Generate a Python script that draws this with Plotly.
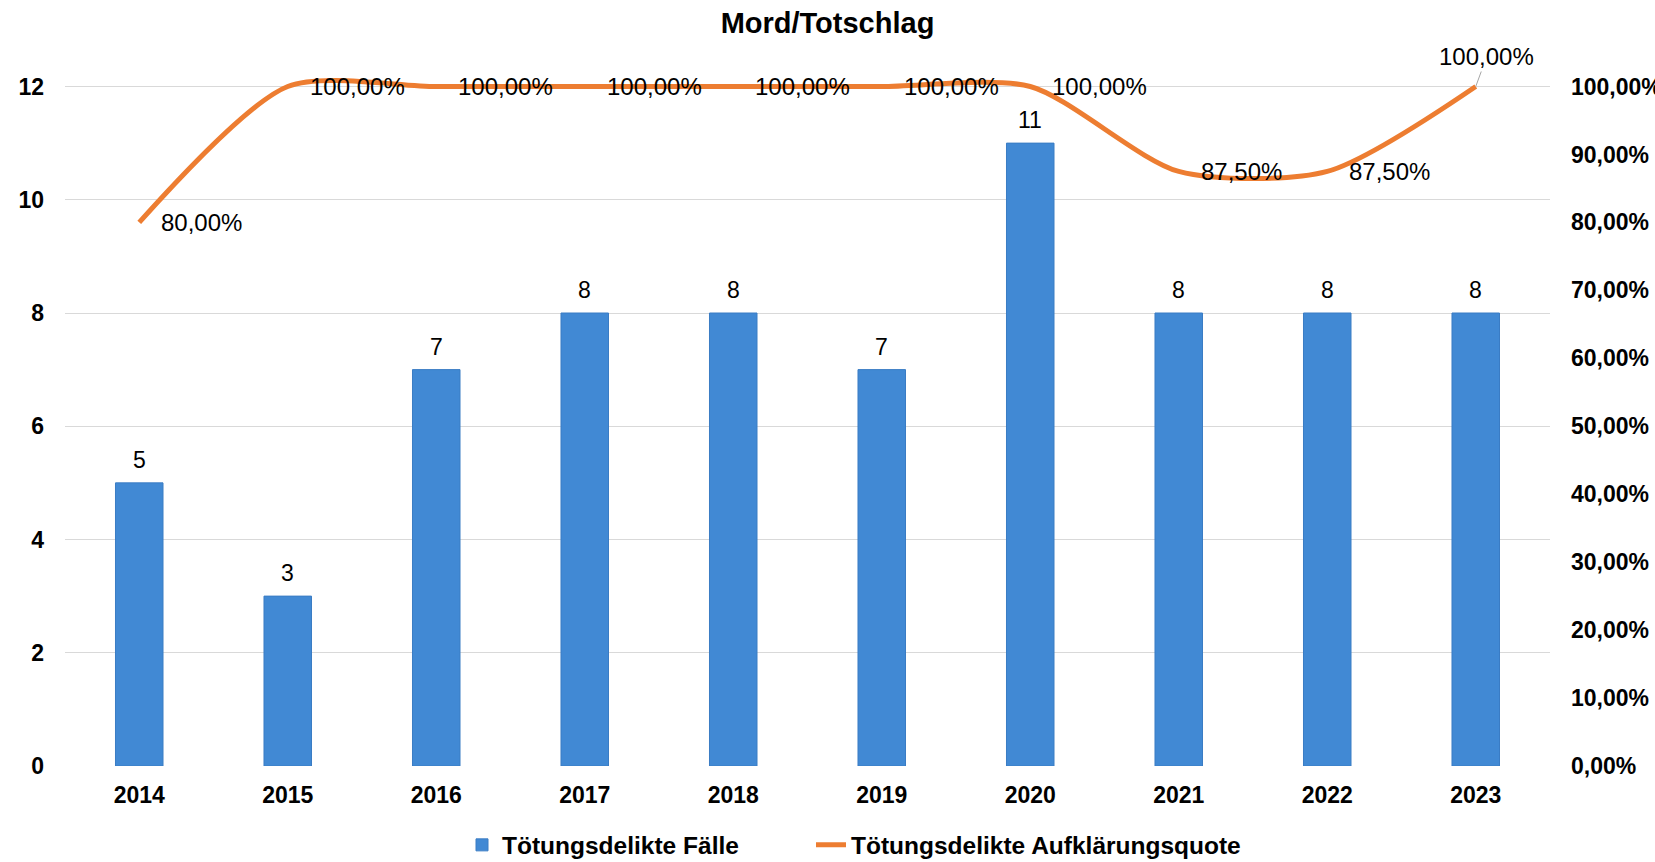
import plotly.graph_objects as go

years = ["2014", "2015", "2016", "2017", "2018", "2019", "2020", "2021", "2022", "2023"]
cases = [5, 3, 7, 8, 8, 7, 11, 8, 8, 8]
clearance = [0.80, 1.00, 1.00, 1.00, 1.00, 1.00, 1.00, 0.875, 0.875, 1.00]

title_text = "Mord/Totschlag"
bar_name = "Tötungsdelikte Fälle"
line_name = "Tötungsdelikte Aufklärungsquote"

W, H = 1655, 862
y_top = 12.15
FONT = "Liberation Sans, Arial, sans-serif"

fig = go.Figure()
fig.add_trace(go.Bar(
    x=years, y=cases, name=bar_name, width=0.32,
    marker=dict(color="#4189d4", line=dict(color="#3a7cc4", width=1)),
    yaxis="y", legend="legend",
))
fig.add_trace(go.Scatter(
    x=years, y=clearance, name=line_name, mode="lines",
    line=dict(color="#ED7D31", width=5, shape="spline", smoothing=0.75),
    yaxis="y2", cliponaxis=False, legend="legend2",
))

def pct(v):
    return f"{v*100:.2f}".replace(".", ",") + "%"

annotations = []
for i, v in enumerate(cases):
    annotations.append(dict(
        x=i, y=v, xref="x", yref="y", text=str(v), showarrow=False,
        yanchor="bottom", yshift=4, bgcolor="white", borderpad=5,
        font=dict(family=FONT, size=23, color="#000"),
    ))
n = len(years)
for i, v in enumerate(clearance):
    if i == n - 1:
        annotations.append(dict(
            x=i, y=v, xref="x", yref="y2", text=pct(v), showarrow=True,
            arrowhead=0, arrowwidth=1, arrowcolor="#a6a6a6", ax=11, ay=-30,
            font=dict(family=FONT, size=24, color="#000"),
        ))
    else:
        annotations.append(dict(
            x=i, y=v, xref="x", yref="y2", text=pct(v), showarrow=False,
            xanchor="left", yanchor="middle", xshift=20,
            font=dict(family=FONT, size=24, color="#000"),
        ))

plot_top_px = 766 - (766 - 86) * y_top / 12
plot_bottom_px = 766
plot_left_px, plot_right_px = 65, 1550
plot_h_px = plot_bottom_px - plot_top_px
plot_w_px = plot_right_px - plot_left_px

legend_y = -(845 - plot_bottom_px) / plot_h_px
legend_common = dict(orientation="h", xanchor="left", yanchor="middle", y=legend_y,
                     font=dict(family=FONT, size=24.5, color="#000", weight="bold"),
                     bgcolor="rgba(0,0,0,0)")

fig.update_layout(
    width=W, height=H,
    paper_bgcolor="white", plot_bgcolor="white",
    separators=",.",
    margin=dict(l=plot_left_px, r=W - plot_right_px, t=plot_top_px, b=H - plot_bottom_px,
                pad=0, autoexpand=False),
    title=dict(text=f"<b>{title_text}</b>", x=0.5, xref="container", xanchor="center",
               y=1 - 23 / H, yref="container", yanchor="middle",
               font=dict(family=FONT, size=29, color="#000")),
    xaxis=dict(type="category", range=[-0.5, n - 0.5], showgrid=False, showline=False,
               zeroline=False, automargin=False,
               tickfont=dict(family=FONT, size=23, color="#000", weight="bold"),
               ticklabelstandoff=13),
    yaxis=dict(range=[0, y_top], tick0=0, dtick=2, showgrid=True, gridcolor="#d9d9d9",
               gridwidth=1, zeroline=False, showline=False, automargin=False,
               tickfont=dict(family=FONT, size=23, color="#000", weight="bold"),
               ticklabelstandoff=20),
    yaxis2=dict(range=[0, y_top / 12], tick0=0, dtick=0.1, tickformat=".2%",
                overlaying="y", side="right", showgrid=False, zeroline=False, showline=False,
                automargin=False,
                tickfont=dict(family=FONT, size=23, color="#000", weight="bold"),
                ticklabelstandoff=20),
    legend=dict(x=(462 - plot_left_px) / plot_w_px, **legend_common),
    legend2=dict(x=(811 - plot_left_px) / plot_w_px, **legend_common),
    annotations=annotations,
    showlegend=True,
)

fig.write_html("out.html", config={"displayModeBar": False},
               post_script="document.body.style.margin='0';document.body.style.padding='0';")
